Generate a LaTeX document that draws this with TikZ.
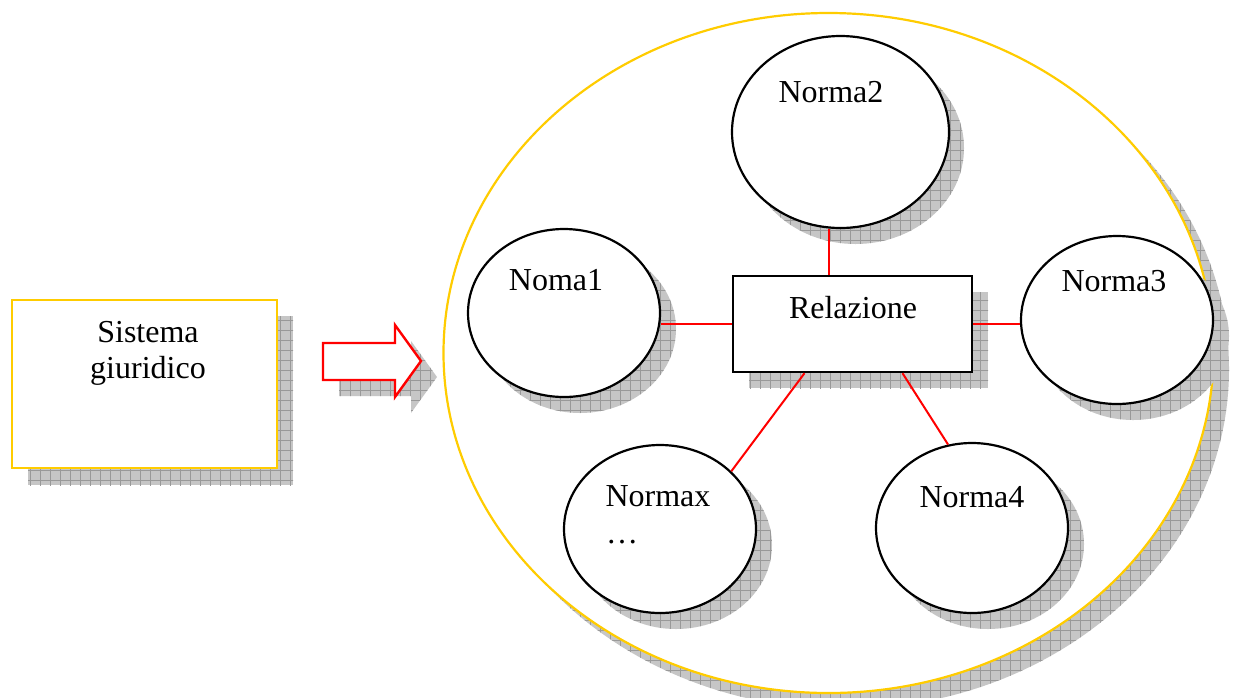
\documentclass[tikz,border=0pt]{standalone}
\usepackage{fontspec}
\setmainfont{Liberation Serif}
\usetikzlibrary{shapes.geometric,calc}
\definecolor{ylw}{HTML}{FFCC00}
\definecolor{rd}{HTML}{FF0000}
\definecolor{shgray}{HTML}{C6C6C6}
\definecolor{shline}{HTML}{999999}
\newcommand{\myshadow}[1]{%
  \fill[shgray] #1;
  \begin{scope}
    \clip #1;
    \draw[shline, line width=0.6pt, step=10pt] (0,0) grid (1240,700);
  \end{scope}}
\tikzset{
  norm/.style={ellipse, draw=black, line width=2.2pt, fill=white, inner sep=0pt},
  relbox/.style={rectangle, draw=black, line width=2.4pt, fill=white, inner sep=0pt},
  sisbox/.style={rectangle, draw=ylw, line width=2.6pt, fill=white, inner sep=0pt},
  txt/.style={font=\fontsize{32}{38}\selectfont, inner sep=0pt, anchor=base},
  conn/.style={draw=rd, line width=2pt},
}
\begin{document}
\begin{tikzpicture}[x=1pt, y=-1pt]
\useasboundingbox (0,0) rectangle (1236,697);
\fill[white] (0,0) rectangle (1236,697);

% big ellipse
\myshadow{(844,369) ellipse [x radius=385pt, y radius=340pt]}
\node[ellipse, draw=ylw, line width=2.2pt, fill=white, inner sep=0pt,
      minimum width=770pt, minimum height=680pt] (world) at (828.5,353) {};

% sistema box
\myshadow{(28,316) rectangle (293,485)}
\node[sisbox, minimum width=265pt, minimum height=168pt] (sis) at (144.5,384) {};
\node[txt] (sis1) at (148,342) {Sistema};
\node[txt] (sis2) at (148,378) {giuridico};

% arrow
\myshadow{(339,359) -- (411,359) -- (411,341) -- (437,377) -- (411,413) -- (411,396) -- (339,396) -- cycle}
\draw[rd, line width=2.4pt, fill=white, line join=miter]
  (323,343) -- (395,343) -- (395,325) -- (421,361) -- (395,397) -- (395,380) -- (323,380) -- cycle;

% inner shadows
\myshadow{(855.5,148) ellipse [x radius=108.5pt, y radius=96pt]}
\myshadow{(580,329) ellipse [x radius=96pt, y radius=84pt]}
\myshadow{(1133,336) ellipse [x radius=96pt, y radius=84pt]}
\myshadow{(676,545) ellipse [x radius=96pt, y radius=84pt]}
\myshadow{(988,544) ellipse [x radius=96pt, y radius=85pt]}
\myshadow{(749,292) rectangle (988,388)}

% nodes
\node[norm, minimum width=217pt, minimum height=192pt] (n2) at (840.5,132) {};
\node[norm, minimum width=192pt, minimum height=168pt] (n1) at (564,313) {};
\node[norm, minimum width=192pt, minimum height=168pt] (n3) at (1117,320) {};
\node[norm, minimum width=192pt, minimum height=168pt] (nx) at (660,529) {};
\node[norm, minimum width=192pt, minimum height=170pt] (n4) at (972,528) {};
\node[relbox, minimum width=239pt, minimum height=96pt] (rel) at (852.5,324) {};

% connectors
\draw[conn] (rel.west) -- (n1.east |- rel.west);
\draw[conn] (rel.east) -- (n3.west |- rel.east);
\draw[conn] ([xshift=-24pt]rel.north) -- ([xshift=-24pt]rel.north |- n2.south);
\draw[conn] ([xshift=-48pt]rel.south) -- (nx.39);
\draw[conn] ([xshift=50pt]rel.south) -- (n4.106);

% labels
\node[txt] (t2) at (831,102) {Norma2};
\node[txt] (t1) at (556,290) {Noma1};
\node[txt] (t3) at (1114,291) {Norma3};
\node[txt] (trel) at (853,318) {Relazione};
\node[txt] (tx) at (658,506) {Normax};
\node[txt, anchor=base west] (tdots) at (606,543) {…};
\node[txt] (t4) at (972,507) {Norma4};
\end{tikzpicture}
\end{document}
